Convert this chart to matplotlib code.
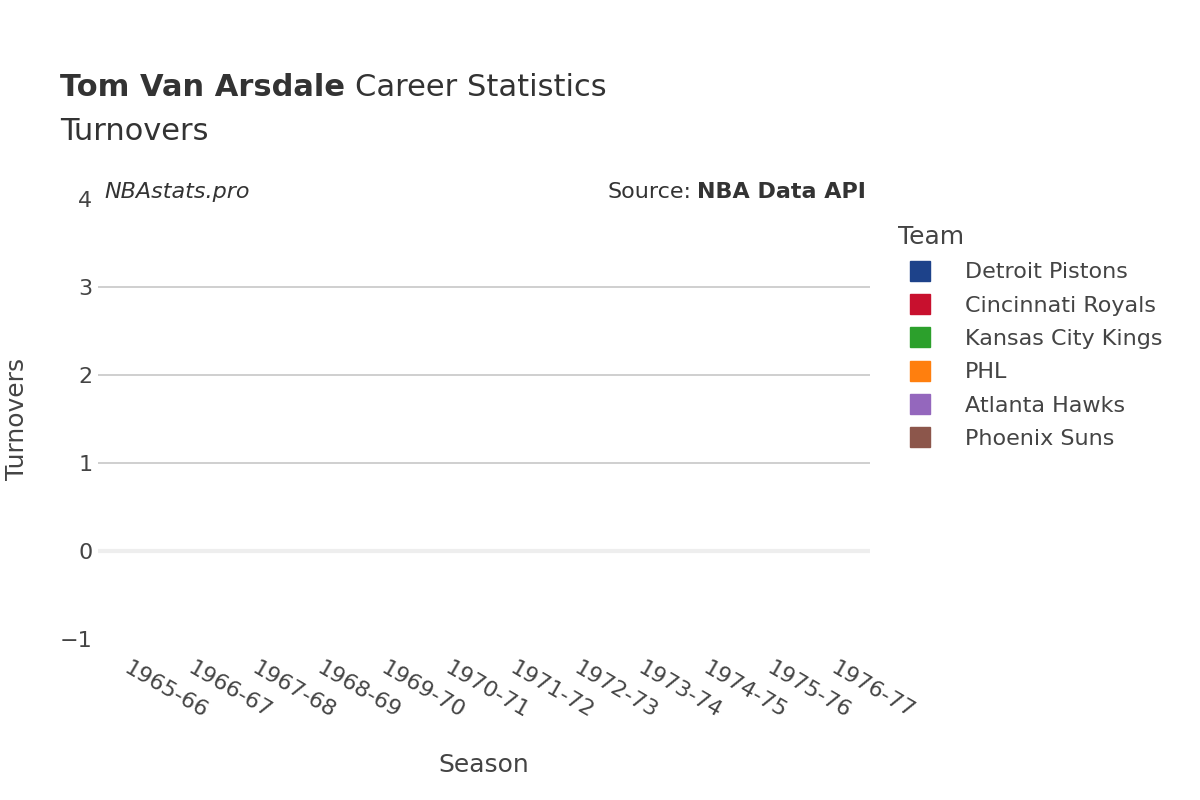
import matplotlib.pyplot as plt

# Data (the reference shows no plotted values)
seasons = ['1965-66', '1966-67', '1967-68', '1968-69', '1969-70', '1970-71',
           '1971-72', '1972-73', '1973-74', '1974-75', '1975-76', '1976-77']
teams = ['Detroit Pistons', 'Cincinnati Royals', 'Kansas City Kings', 'PHL',
         'Atlanta Hawks', 'Phoenix Suns']
team_colors = ['#1d428a', '#c8102e', '#2ca02c', '#ff7f0e', '#9467bd', '#8c564b']
turnovers = {t: [] for t in teams}

fig = plt.figure(figsize=(12, 8), dpi=100)
ax = fig.add_axes([98 / 1200, 1 - 639 / 800, 772 / 1200, 440 / 800])

handles = []
for team, color in zip(teams, team_colors):
    xs = [seasons.index(s) for s, _ in turnovers[team]]
    ys = [v for _, v in turnovers[team]]
    h, = ax.plot(xs, ys, color=color, marker='s', markersize=15, linestyle='none', label=team)
    handles.append(h)

ax.set_xlim(-0.5, len(seasons) - 0.5)
ax.set_ylim(-1, 4)
ax.set_yticks([-1, 0, 1, 2, 3, 4])
ax.set_yticklabels(['\u22121', '0', '1', '2', '3', '4'])
ax.set_xticks(range(len(seasons)))
ax.set_xticklabels(seasons, rotation=-30, ha='left', va='top', rotation_mode='anchor')
ax.tick_params(axis='both', length=0, labelsize=16, colors='#444444')
ax.tick_params(axis='x', pad=14)
ax.tick_params(axis='y', pad=4)
for sp in ax.spines.values():
    sp.set_visible(False)
for y in [1, 2, 3]:
    ax.axhline(y, color='#cccccc', linewidth=1.3, zorder=0)
ax.axhline(0, color='#eeeeee', linewidth=3, zorder=0)

ax.set_xlabel('Season', fontsize=18, color='#444444', labelpad=22)
ax.set_ylabel('Turnovers', fontsize=18, color='#444444', labelpad=22)

renderer = fig.canvas.get_renderer()
t1 = fig.text(60 / 1200, 1 - 88 / 800, 'Tom Van Arsdale', fontsize=22, fontweight='bold',
              color='#333333', va='center')
bb = t1.get_window_extent(renderer)
fig.text((bb.x1 + 10) / 1200, 1 - 88 / 800, 'Career Statistics', fontsize=22,
         color='#333333', va='center')
fig.text(60 / 1200, 1 - 132 / 800, 'Turnovers', fontsize=22, color='#333333', va='center')
fig.text(104 / 1200, 1 - 192 / 800, 'NBAstats.pro', fontsize=16, style='italic',
         color='#333333', va='center')
t2 = fig.text(866 / 1200, 1 - 192 / 800, 'NBA Data API', fontsize=16, fontweight='bold',
              color='#333333', va='center', ha='right')
bb2 = t2.get_window_extent(renderer)
fig.text((bb2.x0 - 6) / 1200, 1 - 192 / 800, 'Source:', fontsize=16, color='#333333',
         va='center', ha='right')

leg = fig.legend(handles=handles, loc='upper left', bbox_to_anchor=(878 / 1200, 1 - 205 / 800),
                 frameon=False, fontsize=16, title='Team', title_fontsize=18,
                 labelspacing=0.6, handletextpad=1.0, markerscale=1)
leg._legend_box.align = 'left'
for t in leg.get_texts():
    t.set_color('#444444')
leg.get_title().set_color('#444444')

fig.savefig('out.png', dpi=100)
